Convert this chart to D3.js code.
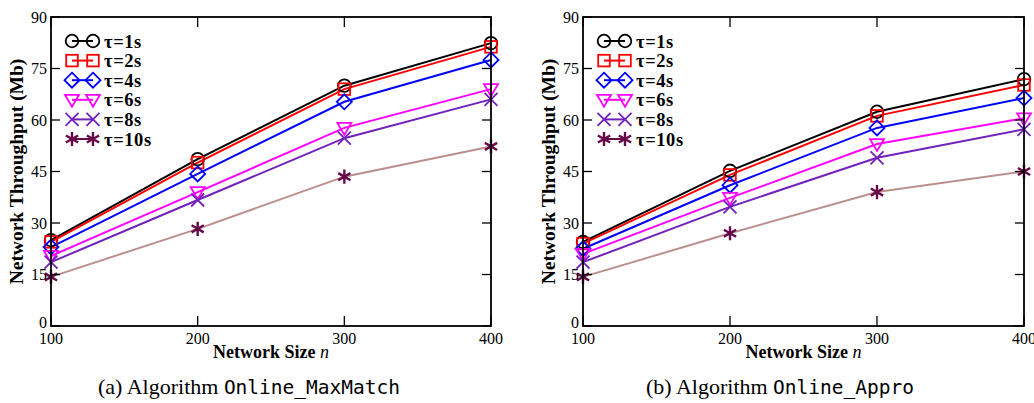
<!DOCTYPE html>
<html>
<head>
<meta charset="utf-8">
<script src="https://cdn.jsdelivr.net/npm/d3@7"></script>
<style>
  body { margin: 0; background: #fff; }
  svg { display: block; }
</style>
</head>
<body>
<div class="chart"></div>
<script>
// data
let sizes = [100, 200, 300, 400];
let labels = ["τ=1s", "τ=2s", "τ=4s", "τ=6s", "τ=8s", "τ=10s"];
let yTicks = [0, 15, 30, 45, 60, 75, 90];

let maxMatch = [
  [25.0, 48.6, 70.0, 82.4],
  [24.5, 47.6, 69.0, 81.3],
  [23.0, 44.3, 65.3, 77.5],
  [20.4, 39.0, 57.7, 69.0],
  [18.6, 36.7, 54.7, 66.0],
  [14.3, 28.3, 43.5, 52.3]
];
let appro = [
  [24.5, 45.2, 62.4, 71.9],
  [24.0, 44.0, 61.2, 70.2],
  [22.5, 41.0, 57.7, 66.4],
  [21.0, 37.3, 53.0, 60.5],
  [18.6, 34.7, 49.0, 57.3],
  [14.3, 27.0, 39.0, 45.0]
];

let lineColors = ["#000000", "#ff0000", "#0000ff", "#ff00ff", "#7221bc", "#bc8f8f"];
let markColors = ["#000000", "#ff0000", "#0000ff", "#ff00ff", "#7221bc", "#670748"];
let shapes = ["circle", "square", "diamond", "tri", "x", "star"];

let serif = "'Liberation Serif', 'Times New Roman', serif";

let svg = d3.select("div.chart").append("svg")
  .attr("width", 1034).attr("height", 403);

function marker(sel, kind, color) {
  let m;
  if (kind == "circle") {
    m = sel.append("circle").attr("r", 6.3);
  } else if (kind == "square") {
    m = sel.append("rect").attr("x", -5.8).attr("y", -5.8).attr("width", 11.6).attr("height", 11.6);
  } else if (kind == "diamond") {
    m = sel.append("path").attr("d", "M0,-7.5L7.5,0L0,7.5L-7.5,0Z");
  } else if (kind == "tri") {
    m = sel.append("path").attr("d", "M-7,-5L7,-5L0,7Z");
  } else if (kind == "x") {
    m = sel.append("path").attr("d", "M-6.5,-6.5L6.5,6.5M-6.5,6.5L6.5,-6.5");
  } else {
    m = sel.append("path").attr("d", d3.symbol(d3.symbolAsterisk, 140)());
  }
  m.attr("fill", "none").attr("stroke", color).attr("stroke-width", kind == "star" ? 2.4 : 1.8);
}

function panel(left, right, series, caption, code, capX) {
  let top = 17, bottom = 326;
  let x = d3.scaleLinear().domain([100, 400]).range([left, right]);
  let y = d3.scaleLinear().domain([0, 90]).range([bottom, top]);
  let g = svg.append("g");

  // lines + markers
  let line = d3.line().x((d, i) => x(sizes[i])).y(d => y(d));
  series.forEach((vals, k) => {
    g.append("path").attr("d", line(vals))
      .attr("fill", "none").attr("stroke", lineColors[k]).attr("stroke-width", 2);
  });
  series.forEach((vals, k) => {
    vals.forEach((v, i) => {
      let mg = g.append("g").attr("transform", "translate(" + x(sizes[i]) + "," + y(v) + ")");
      marker(mg, shapes[k], markColors[k]);
    });
  });

  // frame
  g.append("rect").attr("x", left).attr("y", top)
    .attr("width", right - left).attr("height", bottom - top)
    .attr("fill", "none").attr("stroke", "#000").attr("stroke-width", 1.8);

  // inward ticks on all four sides
  yTicks.forEach(t => {
    g.append("line").attr("x1", left).attr("x2", left + 9).attr("y1", y(t)).attr("y2", y(t))
      .attr("stroke", "#000").attr("stroke-width", 1.3);
    g.append("line").attr("x1", right).attr("x2", right - 9).attr("y1", y(t)).attr("y2", y(t))
      .attr("stroke", "#000").attr("stroke-width", 1.3);
    g.append("text").attr("x", left - 4).attr("y", y(t) + (t == 0 ? 2 : 5.5))
      .attr("text-anchor", "end").attr("font-family", serif).attr("font-size", 16)
      .text(t);
  });
  sizes.forEach(s => {
    g.append("line").attr("x1", x(s)).attr("x2", x(s)).attr("y1", bottom).attr("y2", bottom - 10)
      .attr("stroke", "#000").attr("stroke-width", 1.3);
    g.append("line").attr("x1", x(s)).attr("x2", x(s)).attr("y1", top).attr("y2", top + 10)
      .attr("stroke", "#000").attr("stroke-width", 1.3);
    g.append("text").attr("x", x(s)).attr("y", bottom + 18)
      .attr("text-anchor", "middle").attr("font-family", serif).attr("font-size", 16)
      .text(s);
  });

  // axis titles
  let xt = g.append("text").attr("x", (left + right) / 2).attr("y", bottom + 32)
    .attr("text-anchor", "middle").attr("font-family", serif).attr("font-size", 18)
    .attr("font-weight", "bold");
  xt.append("tspan").text("Network Size ");
  xt.append("tspan").attr("font-style", "italic").attr("font-weight", "normal").text("n");

  g.append("text")
    .attr("transform", "translate(" + (left - 28) + "," + ((top + bottom) / 2) + ") rotate(-90)")
    .attr("text-anchor", "middle").attr("font-family", serif).attr("font-size", 19.5)
    .attr("font-weight", "bold").text("Network Throughput (Mb)");

  // legend
  labels.forEach((lab, k) => {
    let ly = 41 + k * 19.6;
    g.append("line").attr("x1", left + 21).attr("x2", left + 42).attr("y1", ly).attr("y2", ly)
      .attr("stroke", lineColors[k] == "#bc8f8f" ? markColors[k] : lineColors[k]).attr("stroke-width", 2);
    [21, 42].forEach(dx => {
      let mg = g.append("g").attr("transform", "translate(" + (left + dx) + "," + ly + ")");
      marker(mg, shapes[k], markColors[k]);
    });
    g.append("text").attr("x", left + 53).attr("y", ly + 6.5)
      .attr("font-family", serif).attr("font-size", 18.5).attr("font-weight", "bold")
      .attr("letter-spacing", 0.6)
      .text(lab);
  });

  // caption
  let ct = svg.append("text").attr("x", capX).attr("y", 394)
    .attr("text-anchor", "middle").attr("font-family", serif).attr("font-size", 22);
  ct.append("tspan").text(caption + " ");
  ct.append("tspan").attr("font-family", "'DejaVu Sans Mono', monospace").attr("font-size", 19.5).text(code);
}

panel(51, 491, maxMatch, "(a)  Algorithm", "Online_MaxMatch", 249);
panel(583, 1024, appro, "(b)  Algorithm", "Online_Appro", 780);
</script>
</body>
</html>
